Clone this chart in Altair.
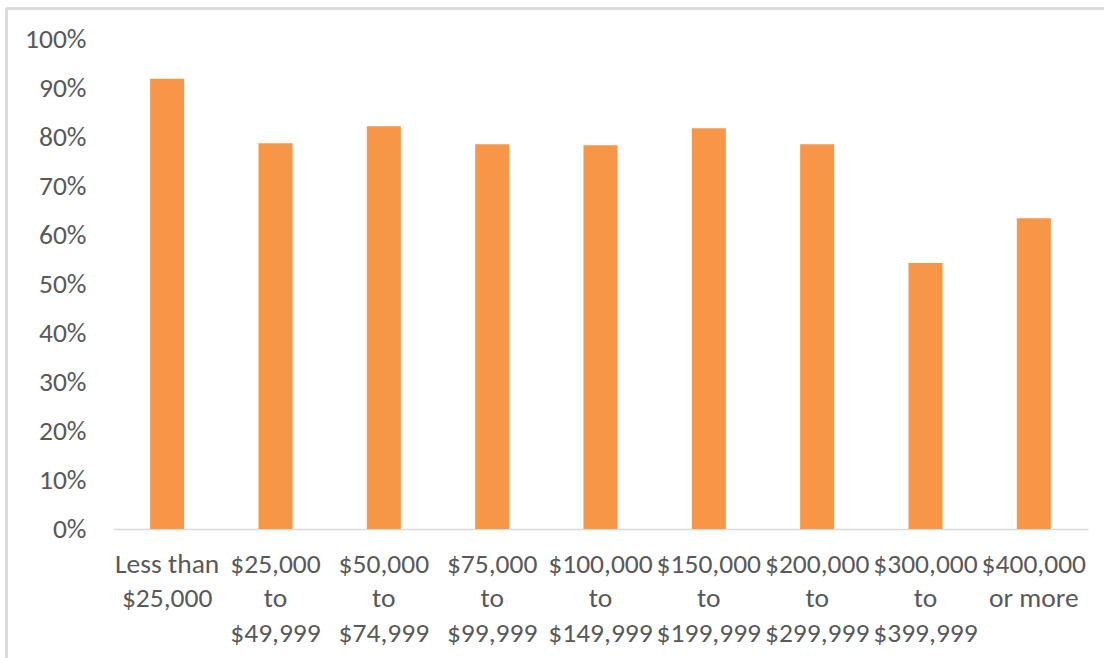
import altair as alt
import pandas as pd

# Household income brackets ("|" marks a line break in the axis label)
brackets = [
    "Less than|$25,000",
    "$25,000|to|$49,999",
    "$50,000|to|$74,999",
    "$75,000|to|$99,999",
    "$100,000|to|$149,999",
    "$150,000|to|$199,999",
    "$200,000|to|$299,999",
    "$300,000|to|$399,999",
    "$400,000|or more",
]
shares = [0.919, 0.787, 0.822, 0.785, 0.783, 0.818, 0.785, 0.543, 0.634]

df = pd.DataFrame({"bracket": brackets, "share": shares})

FONT = "Carlito, Lato"
TEXT = "#595959"
W, H = 975, 490

bars = alt.Chart(df).mark_bar(color="#F79646").encode(
    x=alt.X(
        "bracket:N",
        sort=brackets,
        title=None,
        scale=alt.Scale(paddingInner=0.686, paddingOuter=0.343),
        axis=alt.Axis(
            labelExpr="split(datum.label, '|')",
            labelAngle=0,
            labelFont=FONT,
            labelFontSize=27.5,
            labelColor=TEXT,
            labelLineHeight=34.5,
            labelPadding=21,
            labelOverlap=False,
            ticks=False,
            domainColor="#D9D9D9",
            domainWidth=1.3,
        ),
    ),
    y=alt.Y(
        "share:Q",
        title=None,
        scale=alt.Scale(domain=[0, 1], nice=False),
        axis=alt.Axis(
            format=".0%",
            values=[i / 10 for i in range(11)],
            labelFont=FONT,
            labelFontSize=27.5,
            labelColor=TEXT,
            labelPadding=27,
            ticks=False,
            domain=False,
            grid=False,
        ),
    ),
)

# Light grey chart frame (left and top edges)
frame_left = alt.Chart(df).mark_rule(color="#D9D9D9", strokeWidth=1.5).encode(
    x=alt.value(-106.5), y=alt.value(-30.5), y2=alt.value(H + 200)
)
frame_top = alt.Chart(df).mark_rule(color="#D9D9D9", strokeWidth=1.5).encode(
    x=alt.value(-106.5), x2=alt.value(W + 200), y=alt.value(-30.5)
)

chart = (
    alt.layer(bars, frame_left, frame_top)
    .properties(
        width=W,
        height=H,
        padding={"left": 113, "top": 39, "right": 16, "bottom": 129},
        autosize=alt.AutoSizeParams(type="none"),
        background="white",
    )
    .configure_view(stroke=None)
)

chart.save("out.html", embed_options={"renderer": "svg", "actions": False})
